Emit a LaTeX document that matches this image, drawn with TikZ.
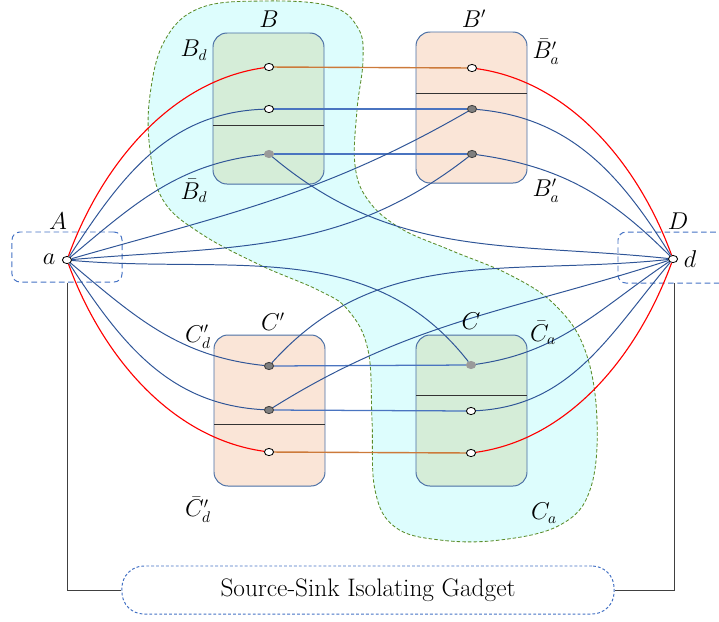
\documentclass[tikz,border=0pt]{standalone}
\usepackage{tikz}
\usetikzlibrary{shapes.geometric}

\begin{document}
\begin{tikzpicture}[x=0.025cm, y=0.025cm, font=\fontsize{16}{18}\selectfont,
  wvtx/.style={ellipse, draw=black, fill=white, line width=0.6pt, inner sep=0pt, minimum width=2.3mm, minimum height=1.8mm},
  dvtx/.style={wvtx, fill=colDark, draw=black!75},
  lvtx/.style={wvtx, fill=colGray, draw=colGray},
  gbox/.style={draw=colFrame, fill=colGreen, line width=0.7pt, rounded corners=0.35cm},
  pbox/.style={draw=colFrame, fill=colPeach, line width=0.7pt, rounded corners=0.35cm},
  divl/.style={draw=black!80, line width=0.7pt},
  bl/.style={draw=colBlue, line width=0.7pt},
  hl/.style={draw=colLight, line width=0.9pt},
  rl/.style={draw=colRed, line width=0.8pt},
  ol/.style={draw=colOrange, line width=1pt},
  gl/.style={draw=black!75, line width=0.7pt}]

% Colori
\definecolor{colBlob}{HTML}{DDFDFD}
\definecolor{colBlobLine}{HTML}{5B8C2A}
\definecolor{colGreen}{HTML}{D5EDD8}
\definecolor{colPeach}{HTML}{FAE5D7}
\definecolor{colFrame}{HTML}{4A6FA5}
\definecolor{colBlue}{HTML}{2F5597}
\definecolor{colLight}{HTML}{4A74C0}
\definecolor{colRed}{HTML}{FF0000}
\definecolor{colOrange}{HTML}{CC7A3A}
\definecolor{colDash}{HTML}{4472C4}
\definecolor{colDark}{HTML}{7F7F7F}
\definecolor{colGray}{HTML}{9A9A9A}

\useasboundingbox (0,0) rectangle (719,-621);

% Regione tratteggiata
\path[fill=colBlob, draw=colBlobLine, line width=0.6pt, dash pattern=on 2.5pt off 1.5pt]
  plot[smooth cycle, tension=0.65] coordinates {
  (263,-1) (330,-6) (358,-28) (363,-60) (357,-110) (355,-165) (368,-200)
  (400,-228) (450,-250) (510,-275) (555,-305) (585,-350) (597,-420)
  (590,-490) (560,-525) (500,-540) (440,-540) (395,-527) (375,-490)
  (372,-420) (368,-350) (348,-310) (318,-290) (260,-265) (200,-233)
  (163,-200) (150,-150) (150,-95) (165,-40) (200,-8)};

% Gadget
\draw[gbox] (213,-33) rectangle (324,-184);
\draw[divl] (213,-125) -- (324,-125);
\draw[pbox] (416,-32) rectangle (527,-183);
\draw[divl] (416,-93) -- (527,-93);
\draw[pbox] (214,-335) rectangle (325,-486);
\draw[divl] (214,-424) -- (325,-424);
\draw[gbox] (416,-335) rectangle (527,-486);
\draw[divl] (416,-395) -- (527,-395);

% Sorgente e pozzo
\node[draw=colDash, line width=0.7pt, dash pattern=on 4pt off 2.5pt, rounded corners=0.2cm,
  minimum width=2.75cm, minimum height=1.25cm] (Abox) at (67,-257) {};
\draw[draw=colDash, line width=0.7pt, dash pattern=on 4pt off 2.5pt, rounded corners=0.2cm]
  (725,-232) -- (618,-232) -- (618,-283) -- (725,-283);
\coordinate (Dfoot) at (674,-283);

\node[draw=colDash, line width=0.7pt, dash pattern=on 2pt off 1.5pt, rounded corners=0.55cm,
  minimum width=12.3cm, minimum height=1.2cm, font=\fontsize{18}{20}\selectfont] (sg) at (368,-590)
  {Source-Sink Isolating Gadget};
\draw[gl] (Abox.south) |- (sg.west);
\draw[gl] (Dfoot) |- (sg.east);

% Vertici
\node[wvtx] (a) at (67,-260) {};
\node[wvtx] (d) at (673,-259) {};

\node[wvtx] (b1) at (269,-67) {};
\node[wvtx] (b2) at (269,-109) {};
\node[lvtx] (b3) at (269,-154) {};

\node[wvtx] (p1) at (472,-68) {};
\node[dvtx] (p2) at (472,-109) {};
\node[dvtx] (p3) at (472,-154) {};

\node[dvtx] (q1) at (269,-366) {};
\node[dvtx] (q2) at (269,-410) {};
\node[wvtx] (q3) at (269,-452) {};

\node[lvtx] (c1) at (471,-365) {};
\node[wvtx] (c2) at (471,-411) {};
\node[wvtx] (c3) at (471,-453) {};

% Collegamenti orizzontali
\draw[ol] (b1) -- (p1);
\draw[ol] (q3) -- (c3);
\draw[hl] (b2) -- (p2);
\draw[hl] (b3) -- (p3);
\draw[hl] (q1) -- (c1);
\draw[hl] (q2) -- (c2);

% Archi rossi
\draw[rl] (a) to[out=70, in=188, looseness=0.9] (b1);
\draw[rl] (a) to[out=-70, in=172, looseness=0.9] (q3);
\draw[rl] (p1) to[out=-8, in=110, looseness=0.9] (d);
\draw[rl] (c3) to[out=8, in=250, looseness=0.9] (d);

% Archi da a
\draw[bl] (a) to[out=57, in=182] (b2);
\draw[bl] (a) to[out=40, in=186] (b3);
\draw[bl] (a) to[out=16, in=210] (p2);
\draw[bl] (a) to[out=5, in=218] (p3);
\draw[bl] (a) to[out=-5, in=128] (c1);
\draw[bl] (a) to[out=-40, in=174] (q1);
\draw[bl] (a) to[out=-57, in=177] (q2);

% Archi verso d
\draw[bl] (p2) to[out=-5, in=122] (d);
\draw[bl] (p3) to[out=-8, in=135] (d);
\draw[bl] (b3) to[out=-40, in=174] (d);
\draw[bl] (q1) to[out=48, in=186] (d);
\draw[bl] (q2) to[out=32, in=198] (d);
\draw[bl] (c1) to[out=8, in=214] (d);
\draw[bl] (c2) to[out=3, in=230] (d);

% Etichette
\node (lA) at (58,-221) {$A$};
\node (la) at (49,-259) {$a$};
\node (lD) at (678,-221) {$D$};
\node (ld) at (690,-259) {$d$};

\node (lB) at (269,-19) {$B$};
\node (lBd) at (194,-50) {$B_d$};
\node (lBdb) at (194,-191) {$\bar{B}_d$};
\node (lBp) at (474,-19) {$B'$};
\node (lBpab) at (546,-52) {$\bar{B}'_a$};
\node (lBpa) at (546,-191) {$B'_a$};

\node (lCp) at (273,-322) {$C'$};
\node (lCpd) at (198,-337) {$C'_d$};
\node (lCpdb) at (198,-510) {$\bar{C}'_d$};
\node (lC) at (471,-321) {$C$};
\node (lCab) at (543,-333) {$\bar{C}_a$};
\node (lCa) at (544,-513) {$C_a$};

\end{tikzpicture}
\end{document}
